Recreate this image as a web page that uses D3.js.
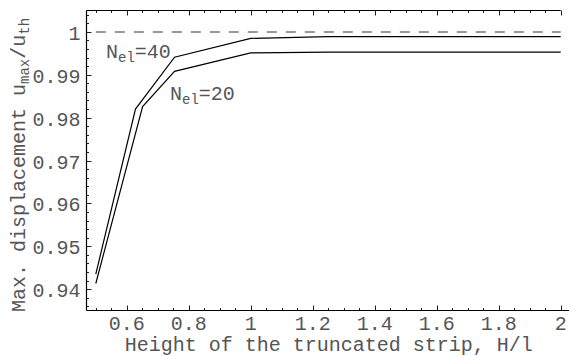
<!DOCTYPE html>
<html>
<head>
<meta charset="utf-8">
<script src="https://cdn.jsdelivr.net/npm/d3@7"></script>
<style>
  body { margin: 0; background: #fff; }
  text { font-family: "Liberation Mono", "DejaVu Sans Mono", monospace; fill: #555; }
</style>
</head>
<body>
<svg id="chart" width="569" height="356"></svg>
<script>
// data
const heights40 = [0.5, 0.628, 0.754, 1.0, 1.25, 1.5, 2.0];
const disp40 = [0.9435, 0.9820, 0.9941, 0.9985, 0.9989, 0.9989, 0.9989];
const heights20 = [0.5, 0.651, 0.754, 1.0, 1.25, 1.5, 2.0];
const disp20 = [0.9413, 0.9826, 0.9908, 0.9951, 0.9953, 0.9953, 0.9953];
const exactValue = 1.0;
const xTickLabels = [0.6, 0.8, 1, 1.2, 1.4, 1.6, 1.8, 2];
const yTickLabels = [0.94, 0.95, 0.96, 0.97, 0.98, 0.99, 1];

function drawChart() {
  var svg = d3.select("#chart");
  var plotLeft = 86.5, plotRight = 570, plotTop = 10.5, plotBottom = 310.5;

  var x = d3.scaleLinear().domain([0.47, 2.03]).range([plotLeft, plotRight]);
  var y = d3.scaleLinear().domain([0.935, 1.005]).range([plotBottom, plotTop]);

  // minor ticks
  var xMinor = d3.range(0.5, 2.001, 0.05).map(v => +v.toFixed(2));
  var yMinor = d3.range(0.936, 1.0045, 0.002).map(v => +v.toFixed(3));
  function isMajorX(v) { return Math.abs(v * 5 - Math.round(v * 5)) < 1e-6; }
  function isMajorY(v) { return Math.abs(v * 100 - Math.round(v * 100)) < 1e-6; }

  var ticks = svg.append("g").attr("stroke", "#222").attr("stroke-width", 1);
  xMinor.forEach(function (v) {
    var len = isMajorX(v) ? 5 : 2.5;
    var px = Math.round(x(v)) + 0.5;
    ticks.append("line").attr("x1", px).attr("x2", px).attr("y1", plotBottom).attr("y2", plotBottom - len);
    ticks.append("line").attr("x1", px).attr("x2", px).attr("y1", plotTop).attr("y2", plotTop + len);
  });
  yMinor.forEach(function (v) {
    var len = isMajorY(v) ? 5 : 2.5;
    var py = Math.round(y(v)) + 0.5;
    ticks.append("line").attr("x1", plotLeft).attr("x2", plotLeft + len).attr("y1", py).attr("y2", py);
  });

  // frame
  var frame = svg.append("g").attr("stroke", "#000").attr("stroke-width", 1.2);
  frame.append("line").attr("x1", plotLeft).attr("x2", plotLeft).attr("y1", plotTop).attr("y2", plotBottom);
  frame.append("line").attr("x1", plotLeft).attr("x2", 569).attr("y1", plotBottom).attr("y2", plotBottom);
  frame.append("line").attr("x1", plotLeft).attr("x2", x(2)).attr("y1", plotTop).attr("y2", plotTop);

  // tick labels
  svg.append("g").selectAll("text").data(xTickLabels).join("text")
    .attr("x", d => x(d)).attr("y", 329.5)
    .attr("text-anchor", "middle").attr("font-size", 20)
    .text(d => d);
  svg.append("g").selectAll("text").data(yTickLabels).join("text")
    .attr("x", 80.5).attr("y", d => y(d) + 8)
    .attr("text-anchor", "end").attr("font-size", 20)
    .text(d => d);

  // reference line
  svg.append("line")
    .attr("x1", x(0.5)).attr("x2", x(2))
    .attr("y1", y(exactValue)).attr("y2", y(exactValue))
    .attr("stroke", "#777").attr("stroke-width", 1.6)
    .attr("stroke-dasharray", "10,9");

  var line = d3.line().x(d => x(d[0])).y(d => y(d[1]));
  svg.append("path").datum(d3.zip(heights40, disp40))
    .attr("d", line).attr("fill", "none").attr("stroke", "#000").attr("stroke-width", 1.2);
  svg.append("path").datum(d3.zip(heights20, disp20))
    .attr("d", line).attr("fill", "none").attr("stroke", "#000").attr("stroke-width", 1.2);

  // curve labels
  function nLabel(px, py, num) {
    var t = svg.append("text").attr("x", px).attr("y", py).attr("font-size", 20);
    t.append("tspan").text("N");
    t.append("tspan").attr("font-size", 14).attr("dy", 4).text("el");
    t.append("tspan").attr("dy", -4).text("=" + num);
  }
  nLabel(106, 57.5, 40);
  nLabel(170, 100, 20);

  // axis labels
  svg.append("text")
    .attr("x", (plotLeft + 569) / 2 + 1).attr("y", 350.5)
    .attr("text-anchor", "middle").attr("font-size", 20)
    .text("Height of the truncated strip, H/l");

  var yl = svg.append("text")
    .attr("transform", "translate(25,165) rotate(-90)")
    .attr("text-anchor", "middle").attr("font-size", 20);
  yl.append("tspan").text("Max. displacement u");
  yl.append("tspan").attr("font-size", 14).attr("dy", 4).text("max");
  yl.append("tspan").attr("dy", -4).text("/u");
  yl.append("tspan").attr("font-size", 14).attr("dy", 4).text("th");
}

drawChart();
</script>
</body>
</html>
